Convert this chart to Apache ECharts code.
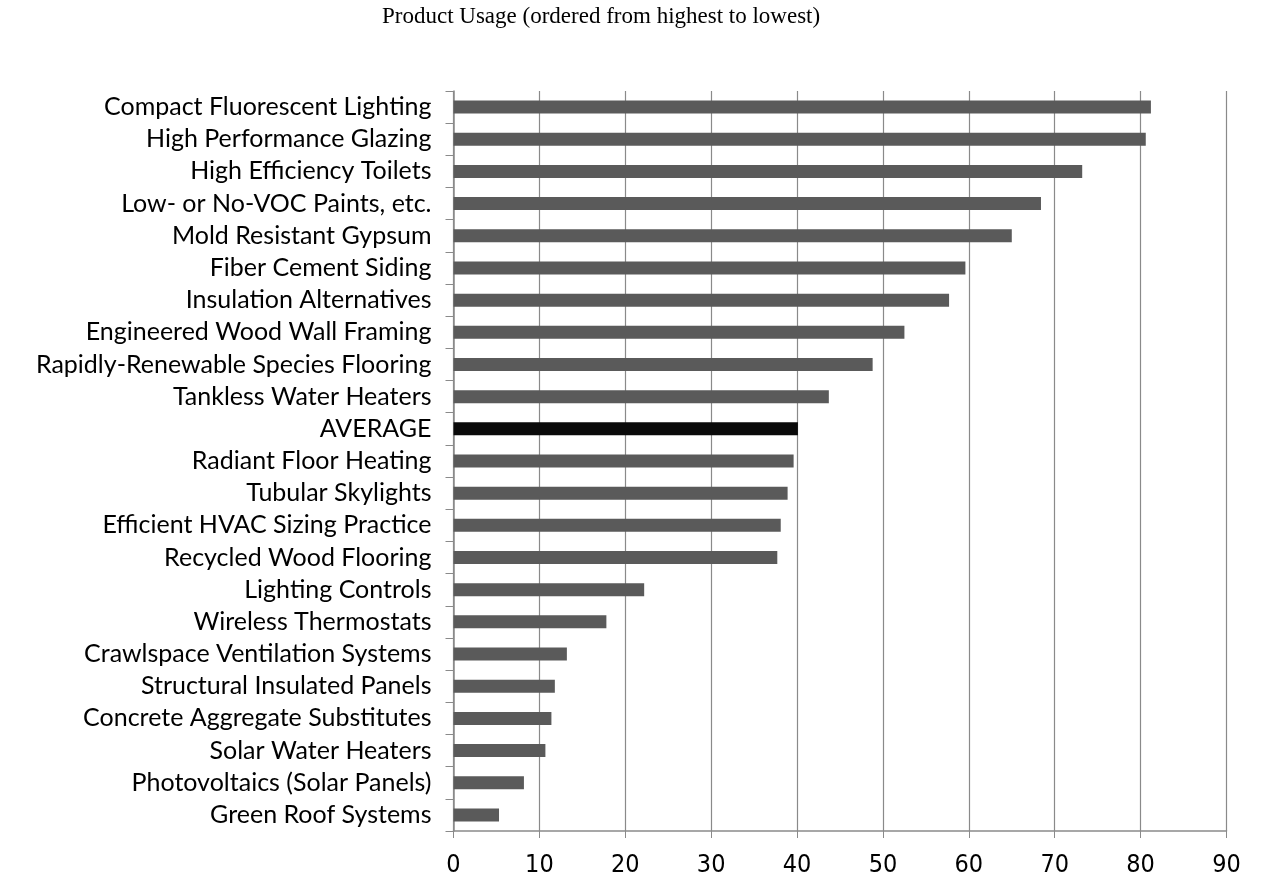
<!DOCTYPE html>
<html>
<head>
<meta charset="utf-8">
<title>Product Usage</title>
<script src="https://cdn.jsdelivr.net/npm/echarts@6/dist/echarts.min.js"></script>
<style>
  html, body { margin: 0; padding: 0; background: #ffffff; }
  #chart { width: 1286px; height: 894px; }
</style>
</head>
<body>
<div id="chart"></div>
<script>
// Products, ordered from highest to lowest usage
const categories = [
  'Compact Fluorescent Lighting',
  'High Performance Glazing',
  'High Efficiency Toilets',
  'Low- or No-VOC Paints, etc.',
  'Mold Resistant Gypsum',
  'Fiber Cement Siding',
  'Insulation Alternatives',
  'Engineered Wood Wall Framing',
  'Rapidly-Renewable Species Flooring',
  'Tankless Water Heaters',
  'AVERAGE',
  'Radiant Floor Heating',
  'Tubular Skylights',
  'Efficient HVAC Sizing Practice',
  'Recycled Wood Flooring',
  'Lighting Controls',
  'Wireless Thermostats',
  'Crawlspace Ventilation Systems',
  'Structural Insulated Panels',
  'Concrete Aggregate Substitutes',
  'Solar Water Heaters',
  'Photovoltaics (Solar Panels)',
  'Green Roof Systems'
];

// Usage values
const usage = [
  81.2, 80.6, 73.2, 68.4, 65.0, 59.6, 57.7, 52.5, 48.8, 43.7,
  40.1, 39.6, 38.9, 38.1, 37.7, 22.2, 17.8, 13.2, 11.8, 11.4,
  10.7, 8.2, 5.3
];

// Value axis tick labels
const xTicks = [0, 10, 20, 30, 40, 50, 60, 70, 80, 90];

const chart = echarts.init(document.getElementById('chart'), null, { renderer: 'canvas' });

const axisGrey = '#8a8a8a';
const barGrey = '#5a5a5a';
const avgColor = '#0a0a0a';

chart.setOption({
  animation: false,
  backgroundColor: '#ffffff',
  title: {
    text: 'Product Usage (ordered from highest to lowest)',
    left: 377,
    top: 0,
    textStyle: {
      fontFamily: '"Liberation Serif", "DejaVu Serif", serif',
      fontWeight: 'normal',
      fontSize: 23,
      color: '#000000'
    }
  },
  grid: {
    left: 453.5,
    right: 59.5,
    top: 91,
    bottom: 63,
    containLabel: false
  },
  xAxis: {
    type: 'value',
    min: xTicks[0],
    max: xTicks[xTicks.length - 1],
    interval: xTicks[1] - xTicks[0],
    axisLine: { show: true, lineStyle: { color: axisGrey, width: 1.5 } },
    axisTick: { show: true, length: 7, lineStyle: { color: axisGrey, width: 1 } },
    splitLine: { show: true, lineStyle: { color: axisGrey, width: 1.2 } },
    axisLabel: {
      margin: 22,
      fontFamily: '"DejaVu Sans Condensed", "DejaVu Sans", sans-serif',
      fontSize: 25,
      color: '#000000'
    }
  },
  yAxis: {
    type: 'category',
    inverse: true,
    data: categories,
    axisLine: { show: true, lineStyle: { color: axisGrey, width: 1.5 } },
    axisTick: { show: true, length: 8, alignWithLabel: false, lineStyle: { color: axisGrey, width: 1 } },
    splitLine: { show: false },
    axisLabel: {
      interval: 0,
      margin: 22,
      fontFamily: 'Lato, "Open Sans", sans-serif',
      fontSize: 25,
      color: '#000000'
    }
  },
  series: [{
    type: 'bar',
    barWidth: 13,
    data: usage.map((v, i) => ({
      value: v,
      itemStyle: { color: categories[i] === 'AVERAGE' ? avgColor : barGrey }
    }))
  }]
});
</script>
</body>
</html>
